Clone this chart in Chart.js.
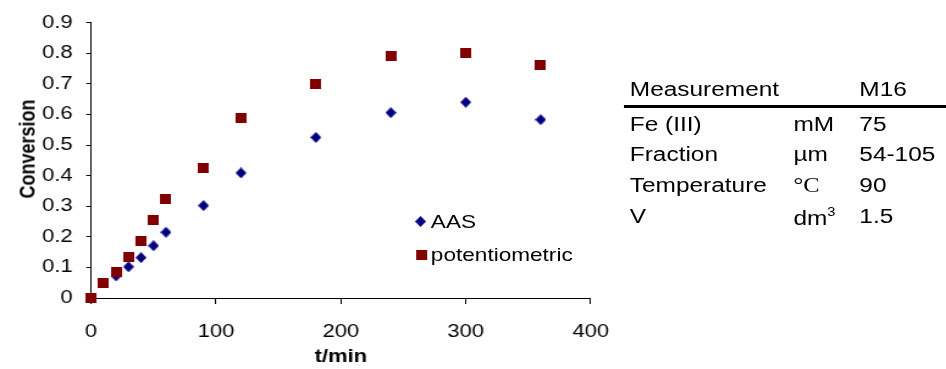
<!DOCTYPE html>
<html>
<head>
<meta charset="utf-8">
<script src="https://cdn.jsdelivr.net/npm/chart.js@4.4.1/dist/chart.umd.min.js"></script>
<style>
  html, body { margin: 0; padding: 0; background: #fff; overflow: hidden; }
  #wrap {
    position: relative; width: 775px; height: 369px;
    transform: scaleX(1.2206); transform-origin: 0 0;
    font-family: "Liberation Sans", Arial, sans-serif; color: #000;
  }
  #chart { position: absolute; left: 0; top: 0; }
  .txt { position: absolute; white-space: nowrap; line-height: 1; }
  .tbl { font-size: 20px; }
  .leg { font-size: 18.5px; }
  .serif { font-family: "Liberation Serif", "Times New Roman", serif; }
  #ytitle {
    position: absolute; left: 21.9px; top: 148.5px; font-size: 18px; font-weight: bold;
    line-height: 1; white-space: nowrap; transform: translate(-50%, -50%) rotate(-90deg);
  }
  #rule { position: absolute; left: 510.5px; top: 104.5px; width: 265px; height: 3px; background: #000; }
  .mk { position: absolute; }
</style>
</head>
<body>
<div id="wrap">
  <canvas id="chart" width="775" height="369" style="width:775px;height:369px"></canvas>
  <div id="ytitle">Conversion</div>

  <!-- legend -->
  <div class="txt leg" style="left:353px; top:212.6px">AAS</div>
  <div class="txt leg" style="left:353px; top:246px">potentiometric</div>

  <!-- experiment conditions -->
  <div class="txt tbl" style="left:516px; top:78.6px">Measurement</div>
  <div class="txt tbl" style="left:704px; top:78.6px">M16</div>
  <div id="rule"></div>
  <div class="txt tbl" style="left:516px; top:113.6px">Fe (III)</div>
  <div class="txt tbl" style="left:650px; top:113.6px">mM</div>
  <div class="txt tbl" style="left:704px; top:113.6px">75</div>
  <div class="txt tbl" style="left:516px; top:144.1px">Fraction</div>
  <div class="txt tbl" style="left:650px; top:144.1px">µm</div>
  <div class="txt tbl" style="left:704px; top:144.1px">54-105</div>
  <div class="txt tbl" style="left:516px; top:174.6px">Temperature</div>
  <div class="txt tbl serif" style="left:650px; top:174.6px">°C</div>
  <div class="txt tbl" style="left:704px; top:174.6px">90</div>
  <div class="txt tbl" style="left:516px; top:205.6px">V</div>
  <div class="txt tbl" style="left:650px; top:205.6px">dm<sup style="font-size:12px; vertical-align:9px">3</sup></div>
  <div class="txt tbl" style="left:704px; top:205.6px">1.5</div>
</div>
<script>
// conversion vs time, two analysis methods
const aasTime = [0, 20, 30, 40, 50, 60, 90, 120, 180, 240, 300, 360];
const aasConversion = [0, 0.072, 0.102, 0.132, 0.171, 0.215, 0.302, 0.409, 0.525, 0.606, 0.640, 0.583];

const potTime = [0, 10, 20, 30, 40, 50, 60, 90, 120, 180, 240, 300, 360];
const potConversion = [0, 0.050, 0.086, 0.135, 0.185, 0.254, 0.324, 0.425, 0.587, 0.699, 0.790, 0.802, 0.761];

const xTicks = [0, 100, 200, 300, 400];
const yTicks = [0, 0.1, 0.2, 0.3, 0.4, 0.5, 0.6, 0.7, 0.8, 0.9];

const NAVY = '#000080';
const MAROON = '#800000';

// small bitmap markers (page is stretched horizontally afterwards)
function squareMarker(color) {
  const c = document.createElement('canvas');
  c.width = 9; c.height = 10;
  const g = c.getContext('2d');
  g.fillStyle = color;
  g.fillRect(0, 0, 9, 10);
  return c;
}
function diamondMarker(color) {
  const c = document.createElement('canvas');
  c.width = 9; c.height = 11;
  const g = c.getContext('2d');
  g.fillStyle = color;
  g.beginPath();
  g.moveTo(4.5, 0); g.lineTo(9, 5.5); g.lineTo(4.5, 11); g.lineTo(0, 5.5);
  g.closePath();
  g.fill();
  return c;
}

function toPoints(xs, ys) {
  return xs.map((x, i) => ({ x: x, y: ys[i] }));
}

// legend markers
const legDiamond = diamondMarker(NAVY);
legDiamond.className = 'mk';
legDiamond.style.left = '340.2px'; legDiamond.style.top = '216.2px';
const legSquare = squareMarker(MAROON);
legSquare.className = 'mk';
legSquare.style.left = '340.5px'; legSquare.style.top = '250px';
document.getElementById('wrap').append(legDiamond, legSquare);

Chart.defaults.font.family = '"Liberation Sans", Arial, sans-serif';
Chart.defaults.font.size = 18;
Chart.defaults.color = '#000';

new Chart(document.getElementById('chart'), {
  type: 'scatter',
  data: {
    datasets: [{
      label: 'AAS',
      data: toPoints(aasTime, aasConversion),
      pointStyle: diamondMarker(NAVY),
      clip: false,
      order: 1
    }, {
      label: 'potentiometric',
      data: toPoints(potTime, potConversion),
      pointStyle: squareMarker(MAROON),
      clip: false,
      order: 0
    }]
  },
  options: {
    responsive: false,
    animation: false,
    devicePixelRatio: 1,
    layout: { padding: { top: 22.7, right: 291.1, left: 0, bottom: 0 } },
    plugins: { legend: { display: false }, tooltip: { enabled: false } },
    scales: {
      x: {
        type: 'linear',
        min: xTicks[0],
        max: xTicks[xTicks.length - 1],
        afterBuildTicks: s => { s.ticks = xTicks.map(v => ({ value: v })); },
        afterFit: s => { s.height = 71; },
        ticks: { padding: 17, maxRotation: 0 },
        grid: { drawOnChartArea: false, tickLength: 6, tickColor: '#000' },
        border: { color: '#000', width: 1 },
        title: {
          display: true, text: 't/min',
          font: { weight: 'bold', size: 18 },
          padding: { top: 0, bottom: 1 }
        }
      },
      y: {
        type: 'linear',
        min: yTicks[0],
        max: yTicks[yTicks.length - 1],
        afterBuildTicks: s => { s.ticks = yTicks.map(v => ({ value: v })); },
        afterFit: s => { s.width = 74.6; },
        ticks: { padding: 11, callback: v => String(Math.round(v * 10) / 10) },
        grid: { drawOnChartArea: false, tickLength: 4, tickColor: '#000' },
        border: { color: '#000', width: 1 }
      }
    }
  }
});
</script>
</body>
</html>
